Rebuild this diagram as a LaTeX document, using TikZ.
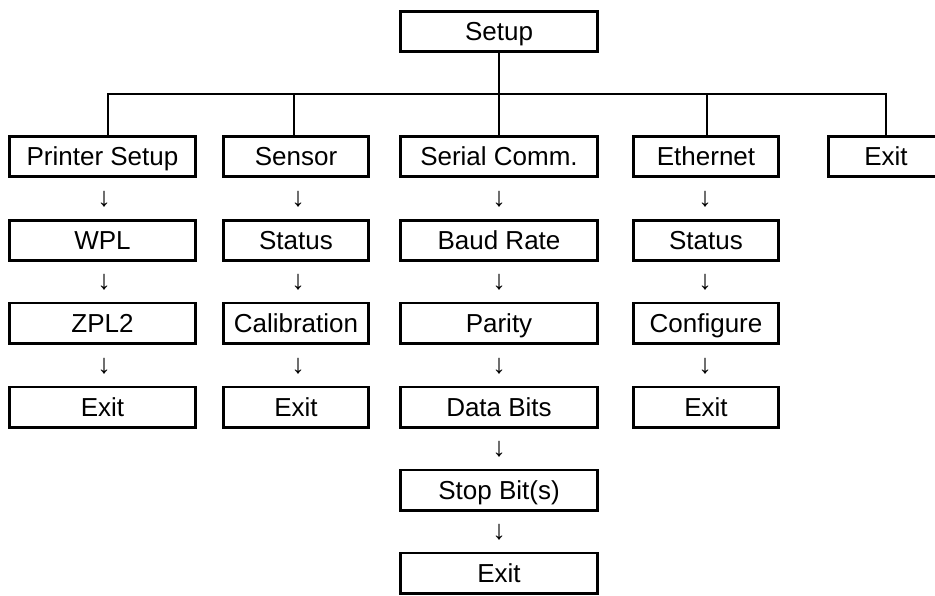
\documentclass[tikz,border=0pt]{standalone}
\usepackage{fontspec}
\setmainfont{Liberation Sans}
\begin{document}
\begin{tikzpicture}[x=1pt,y=-1pt,
  box/.style={draw=black,line width=2.8pt,minimum height=40.2pt,inner sep=0pt,
    text height=18.6pt,text depth=0pt,font=\fontsize{26pt}{30pt}\selectfont},
  dn/.style={inner sep=0pt,font=\fontsize{27pt}{30pt}\selectfont},
  wire/.style={line width=2.8pt}]
\useasboundingbox (0,0) rectangle (935,595);
% top
\node[box,minimum width=197.2pt] (setup) at (499,31.5) {Setup};
% row 1
\node[box,minimum width=186.2pt] (ps) at (102.5,156.5) {Printer Setup};
\node[box,minimum width=145.2pt] (sen) at (296,156.5) {Sensor};
\node[box,minimum width=197.2pt] (ser) at (499,156.5) {Serial Comm.};
\node[box,minimum width=145.2pt] (eth) at (706,156.5) {Ethernet};
\node[box,minimum width=115.2pt] (ex) at (886,156.5) {Exit};
\coordinate (bus) at (0,94);
% tree connectors
\draw[wire] (setup.south) -- (setup.south |- bus);
\draw[wire] ([xshift=5.5pt]ps.north) |- (ex.north |- bus) -- (ex.north);
\draw[wire] ([xshift=-2pt]sen.north) -- ([xshift=-2pt]sen.north |- bus);
\draw[wire] (ser.north) -- (ser.north |- bus);
\draw[wire] ([xshift=1pt]eth.north) -- ([xshift=1pt]eth.north |- bus);
% Printer Setup column
\node[dn] (a1) at (104,199) {↓};
\node[box,minimum width=186.2pt] (wpl) at (102.5,240.5) {WPL};
\node[dn] (a2) at (104,282.5) {↓};
\node[box,minimum width=186.2pt] (zpl) at (102.5,323) {ZPL2};
\node[dn] (a3) at (104,366) {↓};
\node[box,minimum width=186.2pt] (psx) at (102.5,407) {Exit};
% Sensor column
\node[dn] (b1) at (298,199) {↓};
\node[box,minimum width=145.2pt] (sst) at (296,240.5) {Status};
\node[dn] (b2) at (298,282.5) {↓};
\node[box,minimum width=145.2pt] (cal) at (296,323) {Calibration};
\node[dn] (b3) at (298,366) {↓};
\node[box,minimum width=145.2pt] (senx) at (296,407) {Exit};
% Serial column
\node[dn] (c1) at (499,199) {↓};
\node[box,minimum width=197.2pt] (baud) at (499,240.5) {Baud Rate};
\node[dn] (c2) at (499,282.5) {↓};
\node[box,minimum width=197.2pt] (par) at (499,323) {Parity};
\node[dn] (c3) at (499,366) {↓};
\node[box,minimum width=197.2pt] (data) at (499,407) {Data Bits};
\node[dn] (c4) at (499,449.5) {↓};
\node[box,minimum width=197.2pt] (stop) at (499,490) {Stop Bit(s)};
\node[dn] (c5) at (499,532.5) {↓};
\node[box,minimum width=197.2pt] (serx) at (499,573) {Exit};
% Ethernet column
\node[dn] (d1) at (705,199) {↓};
\node[box,minimum width=145.2pt] (est) at (706,240.5) {Status};
\node[dn] (d2) at (705,282.5) {↓};
\node[box,minimum width=145.2pt] (conf) at (706,323) {Configure};
\node[dn] (d3) at (705,366) {↓};
\node[box,minimum width=145.2pt] (ethx) at (706,407) {Exit};
\end{tikzpicture}
\end{document}
